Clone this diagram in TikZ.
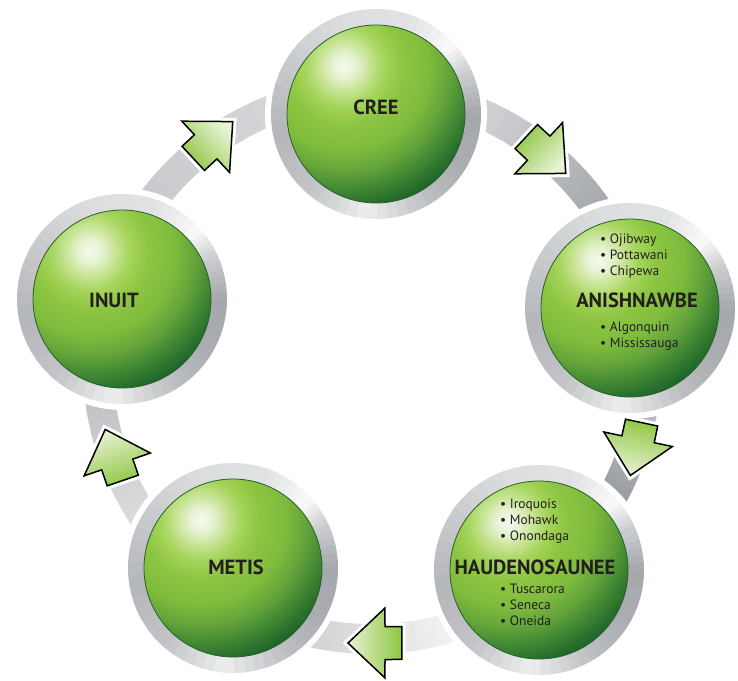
\documentclass[tikz,border=0pt]{standalone}
\usepackage{fontspec}
\setmainfont{PT Sans}

% palette
\definecolor{ink}{RGB}{35,31,32}
\definecolor{steel}{RGB}{62,68,78}
\definecolor{ballhi}{RGB}{246,250,238}
\definecolor{ballA}{RGB}{230,242,210}
\definecolor{ballB}{RGB}{200,228,150}
\definecolor{ballC}{RGB}{166,212,92}
\definecolor{ballD}{RGB}{142,198,66}
\definecolor{ballE}{RGB}{126,187,61}
\definecolor{ballF}{RGB}{100,164,58}
\definecolor{ballG}{RGB}{68,138,52}
\definecolor{ballH}{RGB}{43,114,45}
\definecolor{ballI}{RGB}{30,98,41}
\definecolor{ballrim}{RGB}{38,96,40}
\definecolor{arrowgreen}{RGB}{141,198,63}
\definecolor{arrowpale}{RGB}{232,242,212}

% glossy green glow, centred on the highlight of each sphere
% (TikZ fits the path to the inner 25bp of a radial shading)
\pgfdeclareradialshading{greenglow}{\pgfpointorigin}{%
  color(0bp)=(ballhi); color(2.04bp)=(ballA); color(4.25bp)=(ballB);
  color(6.8bp)=(ballC); color(9.86bp)=(ballD); color(14.45bp)=(ballE);
  color(17.85bp)=(ballF); color(20.74bp)=(ballG); color(23.29bp)=(ballH);
  color(25bp)=(ballI); color(50bp)=(ballI)}

\tikzset{
  title/.style={font=\bfseries\fontsize{20.5}{21}\selectfont, text=ink, inner sep=0pt},
  tribes/.style={font=\fontsize{13.5}{16.3}\selectfont, text=ink, align=left,
    inner sep=0pt, anchor=north west},
  flowarrow/.style={preaction={draw=white, line width=7.5pt, line join=miter},
    draw=black, line width=1.5pt, line join=miter}
}

\begin{document}
\begin{tikzpicture}[x=1pt,y=-1pt]
\path[use as bounding box, fill=white] (0,0) rectangle (738,680);

% ---- silver track running round the cycle ----
\coordinate (hub) at (372,365);
\foreach \a/\b/\da/\db in {-89/-65/15/20, -65/-50/20/28, -50/-35/28/37,
    -35/-12/37/32, -12/5/32/26, 5/16/26/32, 16/28/32/42, 28/45/42/42,
    45/57/42/8, 57/75/8/6, 75/87/6/12, 87/105/12/20, 105/124/20/18,
    124/145/18/15, 145/160/15/20, 160/172/20/26, 172/195/26/24,
    195/215/24/23, 215/235/23/20, 235/255/20/17, 255/271/17/15}{
  \foreach \k in {0,...,9}{
    \pgfmathsetmacro\s{\a+(\b-\a)*\k/10}
    \pgfmathsetmacro\e{\a+(\b-\a)*(\k+1)/10+0.4}
    \pgfmathsetmacro\g{1.25*(\da+(\db-\da)*(\k+0.5)/10)}
    \fill[steel!\g] (hub) -- ++(\s:289) arc[start angle=\s, end angle=\e, radius=289] -- cycle;
  }
}
\fill[white] (hub) circle[radius=259];

% ---- metal-rimmed spheres ----
\foreach \cx/\cy in {376/114, 630/308, 539/570, 233/568, 122/299}{
  \fill[white] (\cx,\cy) circle[radius=111];
  \foreach \a/\b/\da/\db in {0/30/36/34, 30/60/34/26, 60/95/26/7, 95/130/7/24,
      130/170/24/30, 170/210/30/22, 210/250/22/14, 250/290/14/12,
      290/318/12/2, 318/335/2/20, 335/360/20/36}{
    \foreach \k in {0,...,5}{
      \pgfmathsetmacro\s{\a+(\b-\a)*\k/6}
      \pgfmathsetmacro\e{\a+(\b-\a)*(\k+1)/6+0.5}
      \pgfmathsetmacro\g{1.3*(\da+(\db-\da)*(\k+0.5)/6)}
      \fill[steel!\g] (\cx,\cy) -- ++(\s:105) arc[start angle=\s, end angle=\e, radius=105] -- cycle;
    }
  }
  \begin{scope}
    \clip (\cx,\cy) circle[radius=89];
    \shade[shading=greenglow] (\cx-32,\cy-48) circle[radius=147];
  \end{scope}
  \draw[ballrim, line width=0.8pt] (\cx,\cy) circle[radius=89];
}

% ---- block arrows along the track ----
\foreach \x/\y/\d in {546/155/43, 636/449/102, 375/643/180, 114/455/251, 213/140/317}{
  \pgfmathsetmacro\sa{-\d-90}
  \begin{scope}[shift={(\x,\y)}]
    \path[flowarrow, top color=arrowpale, bottom color=arrowgreen, shading angle=\sa]
      (\d:27) -- (\d+105.9:36.4) -- (\d+121.2:19.3) -- (\d+148.6:31.6)
      -- (\d-148.6:31.6) -- (\d-121.2:19.3) -- (\d-105.9:36.4) -- cycle;
  \end{scope}
}

% ---- labels ----
\node[title] (cree) at (376,107) {CREE};
\node[title] (anishnawbe) at (637,300) {ANISHNAWBE};
\node[title] (haudenosaunee) at (535,567) {HAUDENOSAUNEE};
\node[title] (metis) at (236,567) {METIS};
\node[title] (inuit) at (114,300) {INUIT};

\node[tribes] (anishnorth) at (600,233.5) {• Ojibway\\• Pottawani\\• Chipewa};
\node[tribes] (anishsouth) at (600,321.5) {• Algonquin\\• Mississauga};
\node[tribes] (haudnorth) at (500,498.5) {• Iroquois\\• Mohawk\\• Onondaga};
\node[tribes] (haudsouth) at (500,583.5) {• Tuscarora\\• Seneca\\• Oneida};
\end{tikzpicture}
\end{document}
